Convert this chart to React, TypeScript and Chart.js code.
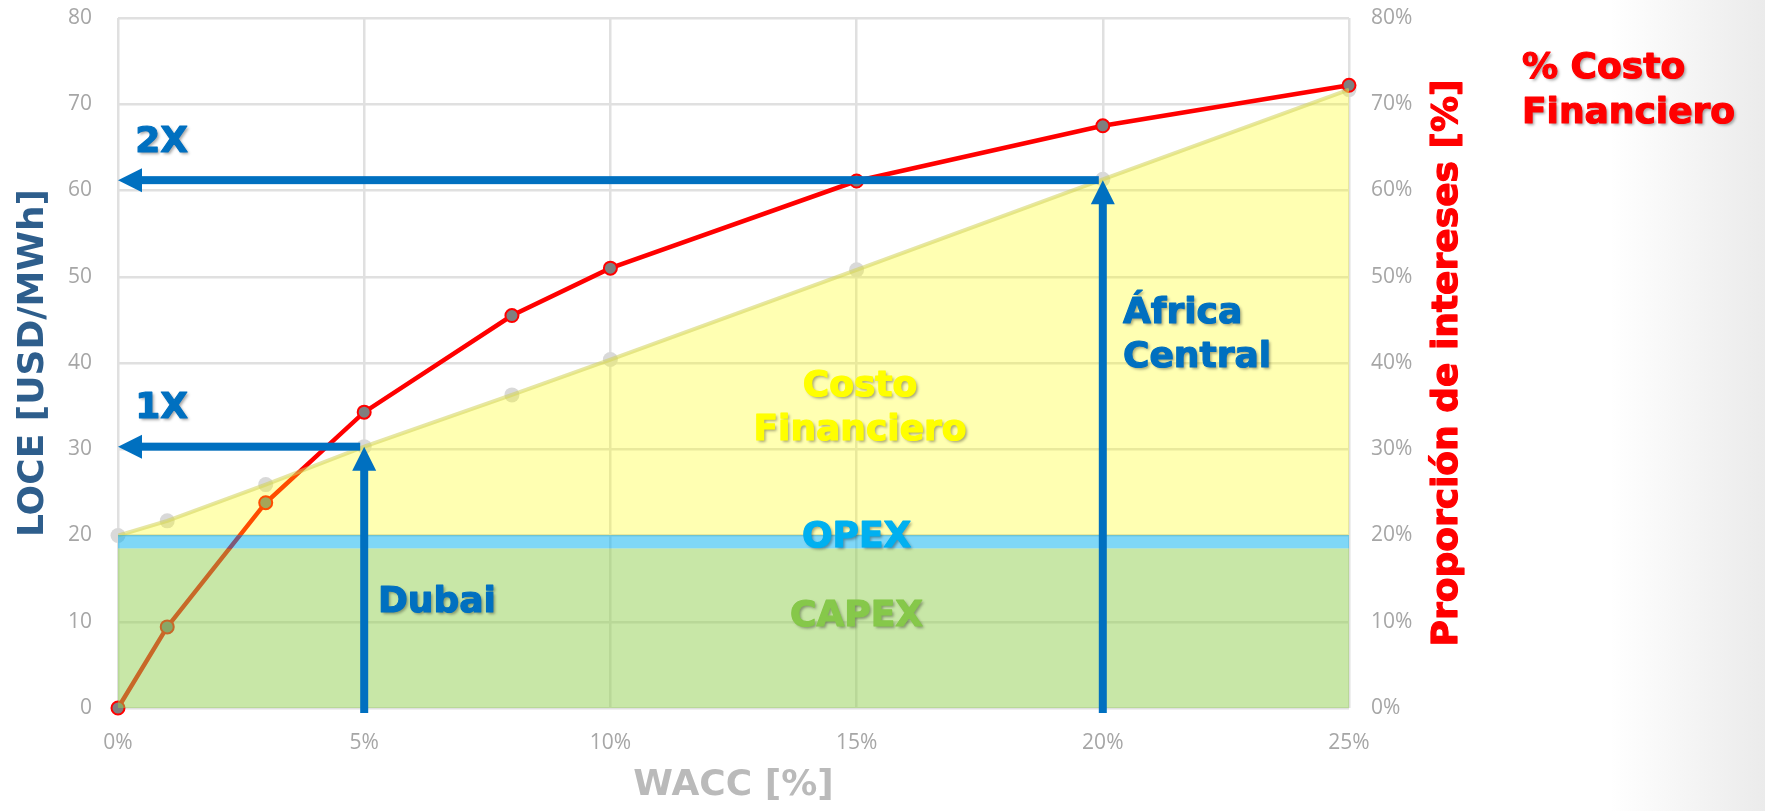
import React, { useEffect, useRef } from "react";
import { Chart, registerables } from "chart.js";

Chart.register(...registerables);

// WACC scenarios (%) shared by every series
const waccPct = [0, 1, 3, 5, 8, 10, 15, 20, 25];
// Levelised cost (USD/MWh) including the financing cost
const loceTotal = [20.0, 21.7, 25.9, 30.3, 36.3, 40.4, 50.8, 61.3, 71.7];
// Capital and operating components (USD/MWh, top of each band)
const capexLevel = [18.5, 18.5, 18.5, 18.5, 18.5, 18.5, 18.5, 18.5, 18.5];
const opexTop = [20, 20, 20, 20, 20, 20, 20, 20, 20];
// Share of the cost that is interest (%), right axis
const financialSharePct = [0, 9.4, 23.8, 34.3, 45.5, 51.0, 61.1, 67.5, 72.2];

// Axis ticks
const xTickValues = [0, 5, 10, 15, 20, 25];
const yTickValues = [0, 10, 20, 30, 40, 50, 60, 70, 80];

// Reference cases marked with arrows: WACC (%) and resulting LOCE
const caseWacc = [5, 20];
const caseLoce = [30.3, 61.2];

const HEAVY = '"DejaVu Sans", "Liberation Sans", sans-serif';
const TICK_FONT = '"Open Sans", "Liberation Sans", sans-serif';

type Note = { text: string; x: number; y: number; align: CanvasTextAlign; color: string };

// Text placed inside the plot, anchored in data units (WACC %, USD/MWh)
const notes: Note[] = [
  { text: "2X", x: 0.35, y: 65.6, align: "left", color: "#0070C0" },
  { text: "1X", x: 0.35, y: 34.7, align: "left", color: "#0070C0" },
  { text: "Dubai", x: 5.28, y: 12.2, align: "left", color: "#0070C0" },
  { text: "África", x: 20.41, y: 45.7, align: "left", color: "#0070C0" },
  { text: "Central", x: 20.41, y: 40.6, align: "left", color: "#0070C0" },
  { text: "Costo", x: 15.07, y: 37.3, align: "center", color: "#FFFF00" },
  { text: "Financiero", x: 15.07, y: 32.1, align: "center", color: "#FFFF00" },
  { text: "OPEX", x: 15.0, y: 19.8, align: "center", color: "#00B0F0" },
  { text: "CAPEX", x: 15.0, y: 10.55, align: "center", color: "#86C84A" },
];

const toPoints = (ys: number[]) => waccPct.map((w, i) => ({ x: w, y: ys[i] }));

// Bold text thickened with a thin stroke of the same colour
const heavyText = (ctx: CanvasRenderingContext2D, text: string, x: number, y: number, color: string) => {
  ctx.fillStyle = color;
  ctx.strokeStyle = color;
  ctx.lineWidth = 1.2;
  ctx.lineJoin = "round";
  ctx.fillText(text, x, y);
  ctx.shadowColor = "transparent";
  ctx.strokeText(text, x, y);
};

const arrowPlugin = {
  id: "caseArrows",
  afterDatasetsDraw(chart: any) {
    const { ctx, chartArea } = chart;
    const x = chart.scales.x;
    const y = chart.scales.y;
    const shaft = 8;
    const headW = 24;
    const headL = 24;
    ctx.save();
    ctx.fillStyle = "#0070C0";
    caseWacc.forEach((w, i) => {
      const px = x.getPixelForValue(w);
      const py = y.getPixelForValue(caseLoce[i]);
      const x0 = x.getPixelForValue(0);
      const yBase = chartArea.bottom + 5;
      // vertical arrow up to the cost line
      ctx.fillRect(px - shaft / 2, py + headL - 1, shaft, yBase - (py + headL - 1));
      ctx.beginPath();
      ctx.moveTo(px, py);
      ctx.lineTo(px - headW / 2, py + headL);
      ctx.lineTo(px + headW / 2, py + headL);
      ctx.closePath();
      ctx.fill();
      // horizontal arrow back to the cost axis
      const hy = py;
      ctx.fillRect(x0 + headL - 1, hy - shaft / 2, px - 4 - (x0 + headL - 1), shaft);
      ctx.beginPath();
      ctx.moveTo(x0, hy);
      ctx.lineTo(x0 + headL, hy - headW / 2);
      ctx.lineTo(x0 + headL, hy + headW / 2);
      ctx.closePath();
      ctx.fill();
    });
    ctx.restore();
  },
};

const textPlugin = {
  id: "noteTexts",
  afterDraw(chart: any) {
    const { ctx, chartArea } = chart;
    const x = chart.scales.x;
    const y = chart.scales.y;
    const shadowOn = () => {
      ctx.shadowColor = "rgba(0,0,0,0.35)";
      ctx.shadowOffsetX = 2;
      ctx.shadowOffsetY = 2;
      ctx.shadowBlur = 3;
    };
    ctx.save();
    ctx.font = `bold 36px ${HEAVY}`;
    ctx.textBaseline = "middle";
    notes.forEach((n) => {
      shadowOn();
      ctx.textAlign = n.align;
      heavyText(ctx, n.text, x.getPixelForValue(n.x), y.getPixelForValue(n.y), n.color);
    });
    // series caption beside the right axis
    ctx.textAlign = "left";
    shadowOn();
    heavyText(ctx, "% Costo", 1522, 69, "#FF0000");
    shadowOn();
    heavyText(ctx, "Financiero", 1522, 114, "#FF0000");
    ctx.restore();

    // right axis title, reading bottom to top
    ctx.save();
    ctx.font = `bold 36px ${HEAVY}`;
    ctx.textAlign = "center";
    ctx.textBaseline = "middle";
    ctx.translate(1448, (chartArea.top + chartArea.bottom) / 2);
    ctx.rotate(-Math.PI / 2);
    heavyText(ctx, "Proporción de intereses [%]", 0, 0, "#FF0000");
    ctx.restore();
  },
};

export default function App() {
  const canvasRef = useRef<HTMLCanvasElement | null>(null);

  useEffect(() => {
    const canvas = canvasRef.current;
    if (!canvas) return;
    const gridColor = "#E0E0E0";
    const fitVertical = (w: number) => (s: any) => {
      s.width = w;
      s.paddingTop = 0;
      s.paddingBottom = 0;
    };
    const chart = new Chart(canvas, {
      type: "line",
      data: {
        datasets: [
          {
            label: "CAPEX",
            data: toPoints(capexLevel),
            fill: "origin",
            backgroundColor: "rgba(146,208,80,0.5)",
            borderWidth: 0,
            pointRadius: 0,
            order: 1,
          },
          {
            label: "OPEX",
            data: toPoints(opexTop),
            fill: "-1",
            backgroundColor: "rgba(0,176,240,0.5)",
            borderColor: "rgba(0,160,220,0.35)",
            borderWidth: 1,
            pointRadius: 0,
            order: 1,
          },
          {
            label: "Costo Financiero",
            data: toPoints(loceTotal),
            fill: "-1",
            backgroundColor: "rgba(255,255,0,0.3)",
            borderColor: "rgba(210,210,90,0.55)",
            borderWidth: 4,
            pointRadius: 0,
            order: 1,
          },
          {
            label: "LOCE",
            data: toPoints(loceTotal),
            showLine: false,
            pointRadius: 7.5,
            pointBackgroundColor: "#D9D9D9",
            pointBorderWidth: 0,
            clip: false,
            order: 3,
          },
          {
            label: "% Costo Financiero",
            yAxisID: "y1",
            data: toPoints(financialSharePct),
            borderColor: "#FF0000",
            borderWidth: 4.5,
            pointRadius: 6.5,
            pointBackgroundColor: "#7F7F7F",
            pointBorderColor: "#FF0000",
            pointBorderWidth: 2,
            fill: false,
            clip: false,
            order: 2,
          },
        ],
      },
      options: {
        animation: false,
        responsive: false,
        maintainAspectRatio: false,
        devicePixelRatio: 1,
        layout: { padding: { top: 18, left: 0, right: 0, bottom: 0 } },
        plugins: { legend: { display: false }, tooltip: { enabled: false } },
        scales: {
          x: {
            type: "linear",
            min: 0,
            max: 25,
            afterFit: (s: any) => {
              s.height = 103;
              s.paddingLeft = 0;
              s.paddingRight = 0;
            },
            afterBuildTicks: (s: any) => {
              s.ticks = xTickValues.map((v) => ({ value: v }));
            },
            ticks: {
              padding: 22,
              color: "#A6A6A6",
              font: { family: TICK_FONT, size: 21 },
              callback: (v: any) => `${v}%`,
            },
            grid: { color: gridColor, lineWidth: 2.5, drawTicks: false },
            border: { display: false },
            title: {
              display: true,
              text: "WACC [%]",
              color: "#BABABA",
              font: { family: HEAVY, size: 36, weight: "bold" },
              padding: { top: 0, bottom: 4 },
            },
          },
          y: {
            type: "linear",
            position: "left",
            min: 0,
            max: 80,
            afterFit: fitVertical(118),
            afterBuildTicks: (s: any) => {
              s.ticks = yTickValues.map((v) => ({ value: v }));
            },
            ticks: {
              padding: 26,
              color: "#A6A6A6",
              font: { family: TICK_FONT, size: 21 },
            },
            grid: { color: gridColor, lineWidth: 2.5, drawTicks: false },
            border: { display: false },
            title: {
              display: true,
              text: "LOCE [USD/MWh]",
              color: "#2E5E8C",
              font: { family: HEAVY, size: 36, weight: "bold" },
              padding: { top: 12, bottom: 0 },
            },
          },
          y1: {
            type: "linear",
            position: "right",
            min: 0,
            max: 80,
            afterFit: fitVertical(416),
            afterBuildTicks: (s: any) => {
              s.ticks = yTickValues.map((v) => ({ value: v }));
            },
            ticks: {
              padding: 22,
              color: "#A6A6A6",
              font: { family: TICK_FONT, size: 21 },
              callback: (v: any) => `${v}%`,
            },
            grid: { display: false, drawTicks: false },
            border: { display: false },
          },
        },
      },
      plugins: [arrowPlugin, textPlugin],
    } as any);
    return () => chart.destroy();
  }, []);

  return (
    <div
      style={{
        position: "fixed",
        left: 0,
        top: 0,
        width: 1765,
        height: 811,
        background: "linear-gradient(to right, #ffffff 0px, #ffffff 1610px, #ebebeb 1765px)",
      }}
    >
      <canvas ref={canvasRef} width={1765} height={811} style={{ display: "block" }} />
    </div>
  );
}
